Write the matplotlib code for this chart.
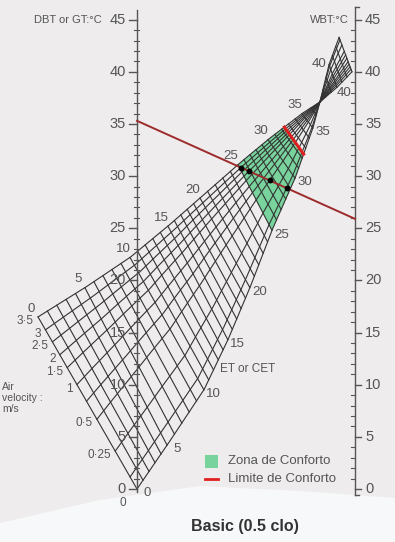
import numpy as np
import matplotlib
matplotlib.use('Agg')
import matplotlib.pyplot as plt
from matplotlib.patches import Polygon, Rectangle

plt.rcParams['font.family'] = ['Liberation Sans', 'DejaVu Sans']

# --- scales (°C) ---
dbt_ticks = [0, 5, 10, 15, 20, 25, 30, 35, 40, 45]
wbt_ticks = [0, 5, 10, 15, 20, 25, 30, 35, 40, 45]

# --- nomogram boundaries ---
# across = 0 on the DBT scale, 1 on the WBT scale; height in °C of the scales
et_marks = [0, 5, 10, 15, 20, 25, 30, 35, 37]
still_across = [0.0, 0.138, 0.307, 0.417, 0.518, 0.619, 0.725, 0.807, 0.839]
still_height = [0.0, 4.2, 9.5, 14.3, 19.3, 24.8, 29.8, 34.6, 37.1]
fast_across = [-0.454, -0.239, -0.032, 0.142, 0.289, 0.463, 0.601, 0.757, 0.839]
fast_height = [16.5, 19.3, 22.2, 25.2, 27.9, 31.1, 33.5, 36.0, 37.1]
# part above the crossing point
et_top = [37, 40, 43]
still_top_across = [0.839, 0.881, 0.927]
still_top_height = [37.1, 40.7, 43.3]
fast_top_across = [0.839, 0.917, 0.986]
fast_top_height = [37.1, 38.5, 40.0]

# air velocity curves (m/s) and where they sit between the two boundaries
velocities = [0, 0.1, 0.25, 0.5, 0.75, 1, 1.5, 2, 2.5, 3, 3.5]
vel_share = [0, 0.07, 0.22, 0.405, 0.51, 0.607, 0.705, 0.78, 0.855, 0.925, 1.0]
vel_labels = {0: '0', 0.25: '0·25', 0.5: '0·5', 1: '1', 1.5: '1·5', 2: '2',
              2.5: '2·5', 3: '3', 3.5: '3·5'}
et_label_vals = [0, 5, 10, 15, 20, 25, 30, 35]

# comfort zone
comfort_et = (25, 32.4)
example_dbt, example_wbt = 35.3, 25.9
dot_velocities = [3, 2, 0.5, 0.1]

EC = 37.0
BOW = 0.3


def grid_pt(e, s):
    e = np.asarray(e, float)
    s = np.asarray(s, float)
    lo = e <= EC
    ax_ = np.where(lo, np.interp(e, et_marks, still_across), np.interp(e, et_top, still_top_across))
    ay_ = np.where(lo, np.interp(e, et_marks, still_height), np.interp(e, et_top, still_top_height))
    bx_ = np.where(lo, np.interp(e, et_marks, fast_across), np.interp(e, et_top, fast_top_across))
    by_ = np.where(lo, np.interp(e, et_marks, fast_height), np.interp(e, et_top, fast_top_height))
    s2 = s + BOW * s * (1 - s) * np.sin(np.pi * np.clip(e, 0, EC) / EC)
    return ax_ + s2 * (bx_ - ax_), ay_ + s2 * (by_ - ay_)


# pixel layout helpers
PX_L, PX_R = 137, 355
PX_PER_X = PX_R - PX_L
PX_T0, PX_PER_C = 489, 10.43
W, H = 395, 542

fig = plt.figure(figsize=(W / 100, H / 100), dpi=100)
fig.patch.set_facecolor('#eeeced')
ax = fig.add_axes([0, 0, 1, 1])
ax.set_facecolor('#eeeced')
ax.set_xlim(-PX_L / PX_PER_X, (W - PX_L) / PX_PER_X)
ax.set_ylim((PX_T0 - H) / PX_PER_C, PX_T0 / PX_PER_C)
ax.axis('off')

dx = 1 / PX_PER_X
dy = 1 / PX_PER_C

# bottom paper (decoration)
wave_px_x = [0, 100, 200, 300, 395]
wave_px_y = [523, 500, 486, 491, 498]
xx = np.linspace(0, W, 100)
yy = np.interp(xx, wave_px_x, wave_px_y)
ax.fill_between((xx - PX_L) * dx, (PX_T0 - yy) * dy, (PX_T0 - H - 5) * dy,
                color='#f7f8fa', zorder=0, lw=0)

# green comfort zone
s_line = np.linspace(0, 1, 40)
e_rng = np.linspace(comfort_et[0], comfort_et[1], 40)
p1 = grid_pt(np.full_like(s_line, comfort_et[0]), s_line)
p2 = grid_pt(e_rng, np.ones_like(e_rng))
p3 = grid_pt(np.full_like(s_line, comfort_et[1]), s_line[::-1])
p4 = grid_pt(e_rng[::-1], np.zeros_like(e_rng))
poly = np.vstack([np.column_stack(p) for p in (p1, p2, p3, p4)])
ax.add_patch(Polygon(poly, closed=True, facecolor='#78d39c', edgecolor='none', zorder=1))

grid_col = '#333333'
# ET lines
for e in range(0, 44):
    if e == 37:
        continue
    gx, gy = grid_pt(np.full_like(s_line, e), s_line)
    ax.plot(gx, gy, color=grid_col, lw=0.8, zorder=2)
# velocity curves
e_all = np.linspace(0, 43, 300)
for v, sh in zip(velocities, vel_share):
    gx, gy = grid_pt(e_all, np.full_like(e_all, sh))
    ax.plot(gx, gy, color=grid_col, lw=0.8, zorder=2)

# DBT scale
ax.plot([0, 0], [-0.3, 45.9], color='#555555', lw=1.0, zorder=3)
for t in range(0, 46):
    if t % 5 == 0:
        ax.plot([-8 * dx, 0], [t, t], color='#555555', lw=1.0, zorder=3)
    else:
        ax.plot([-3 * dx, 1.5 * dx], [t, t], color='#555555', lw=0.8, zorder=3)
for t in dbt_ticks:
    ax.text(-11 * dx, t, str(t), ha='right', va='center', fontsize=10.5, color='#555555')
ax.text(-35 * dx, 45, 'DBT or GT:°C', ha='right', va='center', fontsize=8, color='#555555')

# WBT scale
ax.plot([1, 1], [-0.6, 46.2], color='#555555', lw=1.0, zorder=3)
ax.plot([1, 1 + 4 * dx], [46.2, 46.2], color='#555555', lw=1.0, zorder=3)
ax.plot([1, 1 + 4 * dx], [-0.6, -0.6], color='#555555', lw=1.0, zorder=3)
for t in range(0, 46):
    if t % 5 == 0:
        ax.plot([1, 1 + 6 * dx], [t, t], color='#555555', lw=1.0, zorder=3)
    else:
        ax.plot([1 - 4 * dx, 1], [t, t], color='#555555', lw=0.8, zorder=3)
for t in wbt_ticks:
    ax.text(1 + 10 * dx, t, str(t), ha='left', va='center', fontsize=10.5, color='#555555')
ax.text(1 - 6 * dx, 45, 'WBT:°C', ha='right', va='center', fontsize=8, color='#555555')

# ET labels
for e in et_label_vals:
    bx, by = grid_pt(e, 1.0)
    ax.annotate(str(e), (bx, by), xytext=(-5, 6), textcoords='offset points',
                ha='center', va='center', fontsize=9.5, color='#555555')
    sx, sy = grid_pt(e, 0.0)
    ax.annotate(str(e), (sx, sy), xytext=(7, -3), textcoords='offset points',
                ha='center', va='center', fontsize=9.5, color='#555555')
tx, ty = grid_pt(40, 0.0)
ax.annotate('40', (tx, ty), xytext=(-7, 0), textcoords='offset points',
            ha='center', va='center', fontsize=9.5, color='#555555')
tx, ty = grid_pt(40, 1.0)
ax.annotate('40', (tx, ty), xytext=(5, -4), textcoords='offset points',
            ha='center', va='center', fontsize=9.5, color='#555555')

# velocity labels
for v, sh in zip(velocities, vel_share):
    if v in vel_labels:
        vx, vy = grid_pt(0, sh)
        off = (-8, -10) if v == 0 else (-3, -3)
        ax.annotate(vel_labels[v], (vx, vy), xytext=off, textcoords='offset points',
                    ha='right', va='center', fontsize=8.5, color='#555555')
ax.text(-135 * dx, (PX_T0 - 382) * dy, 'Air\nvelocity :\nm/s', ha='left', va='top',
        fontsize=7.5, color='#555555', linespacing=1.15)
ax.text((220 - PX_L) * dx, (PX_T0 - 369) * dy, 'ET or CET', ha='left', va='center',
        fontsize=8.5, color='#555555')

# example line
ax.plot([0, 1], [example_dbt, example_wbt], color='#9e2b2b', lw=1.4, zorder=4)
# comfort limit
lx, ly = grid_pt(np.full_like(s_line, comfort_et[1]), s_line)
ax.plot(lx, ly, color='#e0201f', lw=2.2, zorder=4)

# dots where the example line crosses velocity curves
for v in dot_velocities:
    sh = np.interp(v, velocities, vel_share)
    e_f = np.linspace(20, 34, 3000)
    cx, cy = grid_pt(e_f, np.full_like(e_f, sh))
    f = cy - (example_dbt + (example_wbt - example_dbt) * cx)
    i = np.where(np.diff(np.sign(f)) != 0)[0]
    if len(i):
        ax.plot(cx[i[0]], cy[i[0]], 'o', color='black', ms=3.2, zorder=5)

# legend
ax.add_patch(Rectangle(((205 - PX_L) * dx, (PX_T0 - 468) * dy), 13 * dx, 13 * dy,
                       facecolor='#78d39c', edgecolor='none', zorder=5))
ax.plot([(205 - PX_L) * dx, (218 - PX_L) * dx], [(PX_T0 - 479) * dy] * 2,
        color='#e0201f', lw=2.0, zorder=5)
ax.text((228 - PX_L) * dx, (PX_T0 - 461) * dy, 'Zona de Conforto', ha='left', va='center',
        fontsize=9.5, color='#555555')
ax.text((228 - PX_L) * dx, (PX_T0 - 479) * dy, 'Limite de Conforto', ha='left', va='center',
        fontsize=9.5, color='#555555')

# caption
ax.text((245 - PX_L) * dx, (PX_T0 - 527) * dy, 'Basic (0.5 clo)', ha='center', va='center',
        fontsize=11.5, fontweight='bold', color='#333333')

fig.savefig('out.png', dpi=100, facecolor=fig.get_facecolor())
